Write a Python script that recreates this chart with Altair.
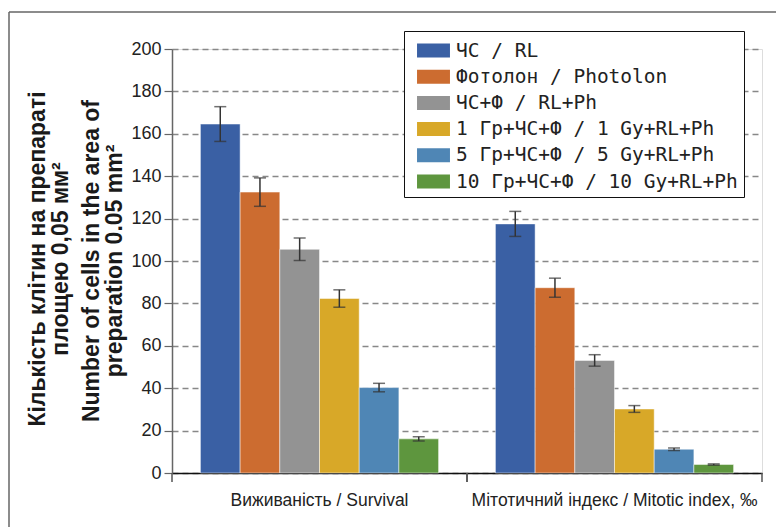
import altair as alt
import pandas as pd

groups = ["Виживаність / Survival", "Мітотичний індекс / Mitotic index, ‰"]
series = [
    "ЧС / RL",
    "Фотолон / Photolon",
    "ЧС+Ф / RL+Ph",
    "1 Гр+ЧС+Ф / 1 Gy+RL+Ph",
    "5 Гр+ЧС+Ф / 5 Gy+RL+Ph",
    "10 Гр+ЧС+Ф / 10 Gy+RL+Ph",
]
survival = [164.6, 132.5, 105.5, 82.3, 40.3, 16.1]
survival_err = [8.2, 6.7, 5.3, 4.1, 2.0, 1.0]
mitotic = [117.5, 87.4, 53.1, 30.2, 11.2, 4.0]
mitotic_err = [5.9, 4.5, 2.7, 1.6, 0.6, 0.3]
colors = ["#3A60A4", "#CC6C30", "#939393", "#D8A828", "#4F86B5", "#5E963E"]
y_ticks = [0, 20, 40, 60, 80, 100, 120, 140, 160, 180, 200]
title_ua = "Кількість клітин на препараті\nплощею 0,05 мм²"
title_en = "Number of cells in the area of\npreparation 0.05 mm²"

rows = []
for g, vals, errs in zip(groups, [survival, mitotic], [survival_err, mitotic_err]):
    for s, v, e in zip(series, vals, errs):
        rows.append({"group": g, "series": s, "value": v, "lo": v - e, "hi": v + e})
df = pd.DataFrame(rows)
gdf = pd.DataFrame({"group": groups})

NARROW = "Liberation Sans Narrow, Arial Narrow, Liberation Sans, Arial, sans-serif"

xaxis = alt.Axis(
    title=None, labelAngle=0, labelFont=NARROW, labelFontSize=17.5,
    labelColor="#222", ticks=False, domainColor="#111",
    domainWidth=1.5, labelPadding=18, labelLimit=400,
)
xscale = alt.Scale(paddingInner=0, paddingOuter=0)
x = alt.X("group:N", sort=groups, scale=xscale, axis=xaxis)
xo = alt.XOffset("series:N", sort=series,
                 scale=alt.Scale(paddingInner=0, paddingOuter=0.716))
yaxis = alt.Axis(
    values=y_ticks, title=None, grid=True, gridDash=[6, 4], gridColor="#888",
    gridWidth=1.5, tickSize=8, tickColor="#666", tickWidth=1.2,
    domainColor="#666", domainWidth=1.5, labelFont=NARROW, labelFontSize=18,
    labelColor="#222", labelPadding=3,
)
yscale = alt.Scale(domain=[0, 200], nice=False)

color = alt.Color(
    "series:N", sort=series,
    scale=alt.Scale(domain=series, range=colors),
    legend=alt.Legend(
        title=None, orient="none", legendX=232, legendY=-18,
        symbolType="M-1.22,-0.52H1.22V0.52H-1.22Z", symbolSize=729,
        symbolStrokeWidth=0, symbolOpacity=1, symbolOffset=10,
        labelFont="DejaVu Sans Mono", labelFontSize=19.5, labelColor="#222",
        labelOffset=9, labelLimit=400, rowPadding=3.2, padding=6,
        strokeColor="#111", fillColor="white",
    ),
)

base = alt.Chart(df)
bars = base.mark_bar(stroke="white", strokeWidth=0.8, strokeOpacity=0.6).encode(
    x=x, xOffset=xo, y=alt.Y("value:Q", scale=yscale, axis=yaxis), color=color
)
rules = base.mark_rule(color="#333", strokeWidth=1.5).encode(
    x=x, xOffset=xo, y=alt.Y("lo:Q", scale=yscale, axis=yaxis), y2="hi:Q"
)
cap_hi = base.mark_tick(color="#333", size=12, thickness=1.5, orient="horizontal").encode(
    x=x, xOffset=xo, y=alt.Y("hi:Q", scale=yscale, axis=yaxis)
)
cap_lo = base.mark_tick(color="#333", size=12, thickness=1.5, orient="horizontal").encode(
    x=x, xOffset=xo, y=alt.Y("lo:Q", scale=yscale, axis=yaxis)
)

# group-boundary ticks below the x axis
gticks_start = alt.Chart(gdf).mark_rule(color="#555", strokeWidth=1.5).encode(
    x=alt.X("group:N", sort=groups, scale=xscale, axis=xaxis, bandPosition=0),
    y=alt.value(424), y2=alt.value(433),
)
gticks_end = alt.Chart(gdf).mark_rule(color="#555", strokeWidth=1.5).encode(
    x=alt.X("group:N", sort=groups, scale=xscale, axis=xaxis, bandPosition=1),
    y=alt.value(424), y2=alt.value(433),
)

one = pd.DataFrame({"a": [0]})
frame_top = alt.Chart(one).mark_rule(color="#666", strokeWidth=1.5).encode(
    x=alt.value(-163), x2=alt.value(700), y=alt.value(-37)
)
frame_left = alt.Chart(one).mark_rule(color="#666", strokeWidth=1.5).encode(
    x=alt.value(-163), y=alt.value(-37), y2=alt.value(700)
)

tstyle = dict(angle=270, lineBreak="\n", lineHeight=23, font="Liberation Sans",
              fontWeight="bold", fontSize=23, align="center", baseline="middle",
              color="#1a1a1a")
t1 = alt.Chart(pd.DataFrame({"t": [title_ua]})).mark_text(**tstyle).encode(
    text="t:N", x=alt.value(-134), y=alt.value(210)
)
t2 = alt.Chart(pd.DataFrame({"t": [title_en]})).mark_text(**tstyle).encode(
    text="t:N", x=alt.value(-80), y=alt.value(212)
)

chart = alt.layer(
    bars, rules, cap_hi, cap_lo, gticks_start, gticks_end,
    frame_top, frame_left, t1, t2
).properties(
    width=590, height=424,
    autosize=alt.AutoSizeParams(type="none"),
    padding={"left": 164, "top": 41, "right": 14, "bottom": 54},
).configure_view(stroke="#666", strokeWidth=1.5).configure(background="white")

chart.save("out.html", embed_options={"renderer": "svg", "actions": False})
